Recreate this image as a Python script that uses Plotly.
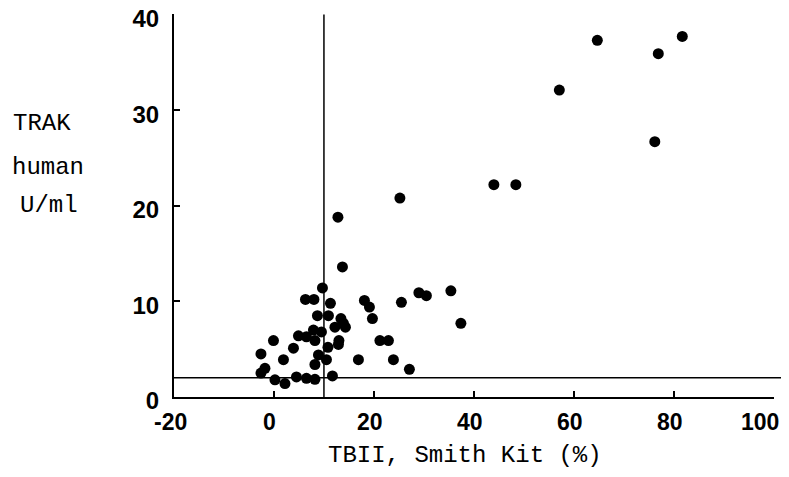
import plotly.graph_objects as go

# TBII (Smith Kit, %) values
tbii = [12.8, 13.7, 25.2, 44.0, 48.4, 57.1, 64.7, 76.2, 76.9, 81.7,
        35.4, 37.4, 29.0, 30.5, 25.5, 18.1, 19.1, 19.7, 21.2, 22.9,
        16.9, 23.9, 27.1,
        -0.1, -2.6, 1.9, 3.9, -1.8, -2.6, 0.2, 2.2, 4.5, 6.5, 8.2, 11.7,
        9.7, 6.3, 8.0, 11.3, 8.7, 10.9, 13.4, 14.3, 12.2, 9.5,
        4.9, 6.5, 8.2, 13.0, 10.8, 12.9, 8.9, 10.5, 8.2, 13.9, 7.9]
# TRAK human (U/ml) values
trak = [18.8, 13.6, 20.8, 22.2, 22.2, 32.1, 37.3, 26.7, 35.9, 37.7,
        11.1, 7.7, 10.9, 10.6, 9.9, 10.1, 9.4, 8.2, 5.9, 5.9,
        3.9, 3.9, 2.9,
        5.9, 4.5, 3.9, 5.1, 3.0, 2.5, 1.8, 1.4, 2.1, 1.95, 1.85, 2.2,
        11.4, 10.2, 10.2, 9.8, 8.5, 8.5, 8.2, 7.3, 7.3, 6.8,
        6.4, 6.3, 5.9, 5.9, 5.2, 5.5, 4.4, 3.9, 3.4, 7.7, 7.0]

x_ticks = [-20, 0, 20, 40, 60, 80, 100]
y_ticks = [0, 10, 20, 30, 40]
tbii_cutoff = 10
trak_cutoff = 2

x_title = "TBII, Smith Kit (%)"
y_title_lines = ["TRAK", "human", "U/ml"]

fig = go.Figure()
fig.add_trace(go.Scatter(
    x=tbii, y=trak, mode="markers",
    marker=dict(color="black", size=11, line=dict(width=0)),
    showlegend=False, cliponaxis=False,
))

# cut-off lines
fig.add_shape(type="line", xref="x", yref="y", x0=tbii_cutoff, x1=tbii_cutoff, y0=0, y1=40,
              line=dict(color="black", width=1.5))
fig.add_shape(type="line", xref="paper", yref="y", x0=0, x1=1.012, y0=trak_cutoff, y1=trak_cutoff,
              line=dict(color="black", width=1.5))

serif_font = dict(family="Liberation Mono", size=24, color="black")
fig.add_annotation(text=x_title, xref="paper", yref="paper", x=0.485, y=-0.152,
                   showarrow=False, font=serif_font, xanchor="center", yanchor="middle")
for txt, yy, xx in zip(y_title_lines, [0.714, 0.598, 0.501], [-0.22, -0.21, -0.208]):
    fig.add_annotation(text=txt, xref="paper", yref="paper", x=xx, y=yy,
                       showarrow=False, font=serif_font, xanchor="center", yanchor="middle")

# x tick labels (drawn as annotations so the last one stays inside the page)
x_tick_font = dict(family="Liberation Sans", size=23, color="black", weight="bold")
for v in x_ticks:
    last = v == max(x_ticks)
    fig.add_annotation(text=str(v), x=v, y=0, xref="x", yref="y", showarrow=False,
                       font=x_tick_font, xanchor="right" if last else "center",
                       yanchor="top", xshift=7 if last else -4, yshift=-10)

y_tick_font = dict(family="Liberation Sans", size=24, color="black", weight="bold")
fig.update_xaxes(range=[-20, 100.05], tickvals=x_ticks, showticklabels=False,
                 showline=True, linecolor="black", linewidth=2,
                 showgrid=False, zeroline=False, automargin=False,
                 ticks="inside", ticklen=6, tickcolor="black", tickwidth=1.5)
fig.update_yaxes(range=[0, 40.05], tickvals=y_ticks, ticktext=[str(v) for v in y_ticks],
                 showline=True, linecolor="black", linewidth=2,
                 showgrid=False, zeroline=False, automargin=False,
                 ticks="inside", ticklen=6, tickcolor="black", tickwidth=1.5,
                 tickfont=y_tick_font, ticklabelstandoff=8, ticklabelshift=4,
                 ticklabeloverflow="allow")
# page body has an 8px margin, so margins are offset to compensate
fig.update_layout(width=789, height=477, plot_bgcolor="white", paper_bgcolor="white",
                  margin=dict(l=166, r=23, t=6, b=88))
fig.write_html("out.html")
